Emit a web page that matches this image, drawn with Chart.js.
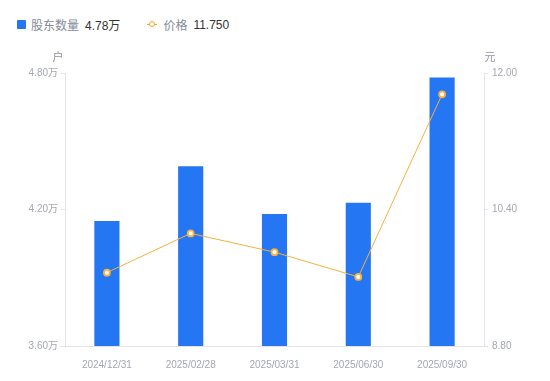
<!DOCTYPE html>
<html><head><meta charset="utf-8">
<script src="https://cdn.jsdelivr.net/npm/chart.js@4/dist/chart.umd.min.js"></script>
<style>
html,body{margin:0;padding:0;background:#fff;}
#wrap{position:relative;width:550px;height:381px;}
#legend{position:absolute;left:17px;top:16px;font-family:"Liberation Sans",Arial,"Noto Sans CJK SC",sans-serif;font-size:12px;display:flex;align-items:center;white-space:nowrap;}
.sw{display:inline-block;width:9px;height:9px;border-radius:1px;background:#2576f3;margin-right:5px;}
.nm{color:#858a99;margin-right:6px;}
.vl{color:#333;}
.mk{position:relative;display:inline-block;width:10px;height:9px;margin-right:6px;margin-left:27px;}
.mk:before{content:"";position:absolute;left:0;right:0;top:4px;height:1px;background:#f5a623;}
.mk:after{content:"";position:absolute;left:2px;top:1px;width:4px;height:4px;border:1.5px solid #f5a623;border-radius:50%;background:#fff;}
canvas{position:absolute;left:0;top:0;}
</style></head>
<body><div id="wrap"><div id="legend"></div><canvas id="c" width="550" height="381"></canvas></div>
<script>
const categories = ["2024/12/31","2025/02/28","2025/03/31","2025/06/30","2025/09/30"];
const holders = [4.15, 4.39, 4.18, 4.23, 4.78];   // 万户
const prices = [9.66, 10.12, 9.90, 9.61, 11.75];   // 元
const leftTicks = [3.60, 4.20, 4.80];
const rightTicks = [8.80, 10.40, 12.00];
const seriesNames = ["股东数量", "价格"];
const units = ["户", "元"];

const FONT = '"Liberation Sans", Arial, "Noto Sans CJK SC", sans-serif';
const TICK = '#a3a6b4';
const AXIS = '#e3e4e8';

document.getElementById('legend').innerHTML =
  '<span class="sw"></span><span class="nm">' + seriesNames[0] + '</span><span class="vl">' + holders[holders.length-1].toFixed(2) + '万</span>' +
  '<span class="mk"></span><span class="nm">' + seriesNames[1] + '</span><span class="vl">' + prices[prices.length-1].toFixed(3) + '</span>';

const unitPlugin = {
  id: 'units',
  afterDraw(chart) {
    const ctx = chart.ctx, a = chart.chartArea;
    ctx.save();
    ctx.font = '11px ' + FONT;
    ctx.fillStyle = '#8e92a0';
    ctx.textAlign = 'center';
    ctx.textBaseline = 'middle';
    ctx.fillText(units[0], a.left - 7, a.top - 15);
    ctx.fillText(units[1], a.right + 6, a.top - 15);
    ctx.restore();
  }
};

new Chart(document.getElementById('c'), {
  data: {
    labels: categories,
    datasets: [
      { type: 'line', label: seriesNames[1], data: prices, yAxisID: 'y2',
        borderColor: '#f6b03c', borderWidth: 1, backgroundColor: '#fff',
        pointRadius: 3, pointBorderWidth: 1.8, pointBorderColor: '#f8b13c', pointBackgroundColor: '#fff',
        tension: 0, order: 0 },
      { type: 'bar', label: seriesNames[0], data: holders, yAxisID: 'y',
        backgroundColor: '#2576f3', categoryPercentage: 1, barPercentage: 0.3, order: 1 }
    ]
  },
  options: {
    responsive: false, animation: false,
    layout: { padding: { top: 73, bottom: 0, left: 0, right: 0 } },
    plugins: { legend: { display: false }, tooltip: { enabled: false } },
    scales: {
      x: {
        grid: { display: false },
        border: { display: true, color: AXIS },
        ticks: { color: TICK, font: { size: 10, family: FONT }, padding: 5, maxRotation: 0 },
        afterFit(s) { s.height = 35; }
      },
      y: {
        position: 'left', min: 3.6, max: 4.8,
        grid: { drawOnChartArea: false, drawTicks: true, tickLength: 4, color: AXIS },
        border: { display: true, color: AXIS },
        afterBuildTicks(s) { s.ticks = leftTicks.map(v => ({ value: v })); },
        ticks: { color: TICK, font: { size: 10, family: FONT }, padding: 3,
          callback: v => v.toFixed(2) + '万' },
        afterFit(s) { s.width = 65; }
      },
      y2: {
        position: 'right', min: 8.8, max: 12.0,
        grid: { drawOnChartArea: false, drawTicks: true, tickLength: 4, color: AXIS },
        border: { display: true, color: AXIS },
        afterBuildTicks(s) { s.ticks = rightTicks.map(v => ({ value: v })); },
        ticks: { color: TICK, font: { size: 10, family: FONT }, padding: 4,
          callback: v => v.toFixed(2) },
        afterFit(s) { s.width = 66; }
      }
    }
  },
  plugins: [unitPlugin]
});
</script></body></html>
